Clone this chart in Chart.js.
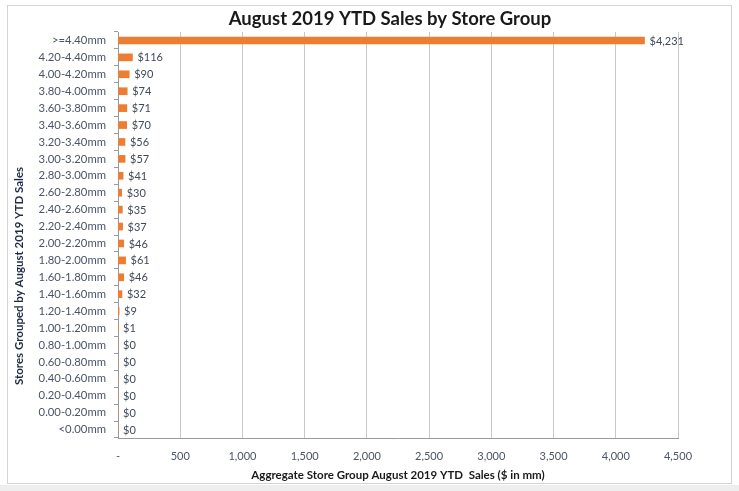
<!DOCTYPE html>
<html>
<head>
<meta charset="utf-8">
<script src="https://cdn.jsdelivr.net/npm/chart.js@4.4.1/dist/chart.umd.min.js"></script>
<style>
  html, body { margin: 0; padding: 0; background: #ffffff; }
  body { width: 739px; height: 491px; position: relative; overflow: hidden; }
  #frame {
    position: absolute; left: 7px; top: 5px; width: 725px; height: 479px;
    border: 1px solid #d4d4d4; background: #ffffff; box-sizing: border-box;
  }
  #under { position: absolute; left: 0; top: 485px; width: 739px; height: 6px; background: #eeeeee; }
  #wrap { position: absolute; left: 0; top: 0; width: 739px; height: 491px; }
</style>
</head>
<body>
<div id="under"></div>
<div id="frame"></div>
<div id="wrap"><canvas id="c" width="739" height="491"></canvas></div>
<script>
// Store groups, largest sales band first
const storeGroups = [
  '>=4.40mm', '4.20-4.40mm', '4.00-4.20mm', '3.80-4.00mm', '3.60-3.80mm',
  '3.40-3.60mm', '3.20-3.40mm', '3.00-3.20mm', '2.80-3.00mm', '2.60-2.80mm',
  '2.40-2.60mm', '2.20-2.40mm', '2.00-2.20mm', '1.80-2.00mm', '1.60-1.80mm',
  '1.40-1.60mm', '1.20-1.40mm', '1.00-1.20mm', '0.80-1.00mm', '0.60-0.80mm',
  '0.40-0.60mm', '0.20-0.40mm', '0.00-0.20mm', '<0.00mm'
];
// Aggregate August 2019 YTD sales per group ($ in mm)
const ytdSales = [
  4231, 116, 90, 74, 71, 70, 56, 57, 41, 30, 35, 37, 46, 61, 46, 32, 9, 1, 0, 0, 0, 0, 0, 0
];
// Sales axis range
const salesMin = 0;
const salesMax = 4500;
const salesStep = 500;

const chartTitle = 'August 2019 YTD Sales by Store Group';
const xAxisTitle = 'Aggregate Store Group August 2019 YTD  Sales ($ in mm)';
const yAxisTitle = 'Stores Grouped by August 2019 YTD Sales';

const FONT = 'Lato, "Open Sans", "DejaVu Sans", sans-serif';
const fmt = v => v.toLocaleString('en-US');

// Dollar value written just past the end of each bar
const valueLabels = {
  id: 'valueLabels',
  afterDatasetsDraw(chart) {
    const ctx = chart.ctx;
    const meta = chart.getDatasetMeta(0);
    ctx.save();
    ctx.font = '11px ' + FONT;
    ctx.fillStyle = '#404a5a';
    ctx.textAlign = 'left';
    ctx.textBaseline = 'middle';
    meta.data.forEach((bar, i) => {
      ctx.fillText('$' + fmt(ytdSales[i]), bar.x + 5, bar.y + 0.5);
    });
    ctx.restore();
  }
};

// Chart heading and rotated category-axis title
const headings = {
  id: 'headings',
  afterDraw(chart) {
    const ctx = chart.ctx;
    ctx.save();
    ctx.font = 'bold 18.5px ' + FONT;
    ctx.fillStyle = '#1a1a1a';
    ctx.textAlign = 'center';
    ctx.textBaseline = 'middle';
    ctx.fillText(chartTitle, 390, 19);

    ctx.translate(19, 276);
    ctx.rotate(-Math.PI / 2);
    ctx.font = 'bold 11.5px ' + FONT;
    ctx.fillStyle = '#1f2a44';
    ctx.fillText(yAxisTitle, 0, 0);
    ctx.restore();
  }
};

new Chart(document.getElementById('c'), {
  type: 'bar',
  data: {
    labels: storeGroups,
    datasets: [{
      data: ytdSales,
      backgroundColor: '#ED7D31',
      borderWidth: 0,
      barThickness: 7
    }]
  },
  options: {
    indexAxis: 'y',
    responsive: false,
    animation: false,
    events: [],
    layout: { padding: { left: 12, right: 61, top: 32, bottom: 9 } },
    plugins: {
      legend: { display: false },
      tooltip: { enabled: false },
      title: { display: false }
    },
    scales: {
      x: {
        type: 'linear',
        min: salesMin,
        max: salesMax,
        ticks: {
          stepSize: salesStep,
          color: '#4a5468',
          font: { family: FONT, size: 11 },
          padding: 12,
          callback: v => (v === 0 ? '-' : fmt(v))
        },
        grid: { color: '#c8c8c8', lineWidth: 1, drawTicks: false },
        border: { display: true, color: '#9a9a9a', width: 1 },
        title: {
          display: true,
          text: xAxisTitle,
          color: '#1a1a1a',
          font: { family: FONT, size: 11.5, weight: 'bold' },
          padding: { top: 2, bottom: 0 }
        },
        afterFit: s => { s.height = 44; }
      },
      y: {
        ticks: {
          color: '#4a5468',
          font: { family: FONT, size: 11.3 },
          padding: 8,
          autoSkip: false
        },
        grid: {
          drawOnChartArea: false,
          drawTicks: true,
          tickLength: 4,
          color: '#9a9a9a'
        },
        border: { display: true, color: '#9a9a9a', width: 1 },
        afterFit: s => { s.width = 106; }
      }
    }
  },
  plugins: [valueLabels, headings]
});
</script>
</body>
</html>
